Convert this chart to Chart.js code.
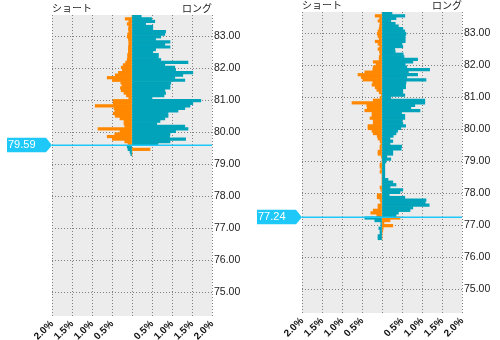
<!DOCTYPE html>
<html>
<head>
<meta charset="utf-8">
<script src="https://cdn.jsdelivr.net/npm/chart.js@4"></script>
<style>
  html, body { margin: 0; padding: 0; background: #fff; }
  #wrap { position: relative; width: 500px; height: 340px; }
  canvas { position: absolute; top: 0; }
  #bookA { left: 0; }
  #bookB { left: 250px; }
</style>
</head>
<body>
<div id="wrap">
  <canvas id="bookA" width="250" height="340"></canvas>
  <canvas id="bookB" width="250" height="340"></canvas>
</div>
<script>
// price buckets, top to bottom
const priceLevels = [
  83.62, 83.54, 83.46, 83.38, 83.30, 83.22, 83.14, 83.06, 82.98, 82.90,
  82.82, 82.74, 82.66, 82.58, 82.50, 82.42, 82.34, 82.26, 82.18, 82.10,
  82.02, 81.94, 81.86, 81.78, 81.70, 81.62, 81.54, 81.46, 81.38, 81.30,
  81.22, 81.14, 81.06, 80.98, 80.90, 80.82, 80.74, 80.66, 80.58, 80.50,
  80.42, 80.34, 80.26, 80.18, 80.10, 80.02, 79.94, 79.86, 79.78, 79.70,
  79.62, 79.54, 79.46, 79.38, 79.30, 79.22, 79.14, 79.06, 78.98, 78.90,
  78.82, 78.74, 78.66, 78.58, 78.50, 78.42, 78.34, 78.26, 78.18, 78.10,
  78.02, 77.94, 77.86, 77.78, 77.70, 77.62, 77.54, 77.46, 77.38, 77.30,
  77.22, 77.14, 77.06, 76.98, 76.90, 76.82, 76.74, 76.66, 76.58
];

// left book (%), long = teal, short = orange
const longA = [
  0.23, 0.49, 0.57, 0.34, 0.52, 0.52, 0.84, 0.82, 0.72, 0.59,
  0.95, 0.82, 0.95, 0.59, 0.52, 0.66, 0.66, 0.72, 1.40, 0.82,
  1.07, 1.09, 1.52, 1.27, 1.07, 1.32, 0.97, 0.95, 0.95, 0.82,
  0.84, 0.80, 0.50, 1.72, 1.52, 1.45, 1.32, 1.15, 0.90, 0.90,
  0.82, 0.70, 0.62, 1.32, 1.40, 1.09, 0.95, 0.94, 1.34, 0.95,
  0.65, -0.12, -0.10, -0.05, -0.03
];
const shortA = [
  0, -0.17, -0.08, -0.12, -0.08, -0.09, -0.08, -0.11, -0.12, -0.09,
  -0.08, -0.08, -0.09, -0.09, -0.09, -0.11, -0.11, -0.12, -0.16, -0.22,
  -0.27, -0.24, -0.34, -0.42, -0.62, -0.49, -0.28, -0.25, -0.29, -0.27,
  -0.20, -0.14, -0.08, -0.47, -0.47, -0.92, -0.45, -0.43, -0.47, -0.42,
  -0.30, -0.20, -0.20, -0.18, -0.85, -0.30, -0.43, -0.62, -0.49, -0.18,
  -0.10, -0.03, 0.45, 0, 0
];
const rateA = 79.59;

// right book (%)
const longB = [
  0.25, 0.57, 0.35, 0.22, 0.33, 0.41, 0.52, 0.57, 0.60, 0.58,
  0.58, 0.58, 0.50, 0.52, 0.32, 0.33, 0.53, 0.55, 0.89, 0.77,
  0.58, 0.62, 1.19, 0.66, 0.89, 0.62, 1.10, 0.60, 0.59, 0.59,
  0.52, 0.52, 0.57, 0.22, 1.07, 1.07, 0.82, 0.72, 0.95, 0.49,
  0.57, 0.57, 0.50, 0.52, 0.59, 0.47, 0.39, 0.35, 0.28, 0.20,
  0.27, 0.20, 0.49, 0.48, 0.27, 0.27, 0.12, 0.22, 0.10, 0.07,
  0.07, 0.07, 0.07, 0.07, 0.07, 0.15, 0.27, 0.35, 0.20, 0.52,
  0.45, 0.18, 0.57, 1.10, 1.08, 1.18, 0.77, 0.70, 0.41, 0.35,
  -0.43, -0.18, -0.03, -0.02, -0.08, -0.05, -0.05, -0.10, -0.10
];
const shortB = [
  0, -0.17, -0.06, -0.10, -0.05, -0.06, -0.07, -0.10, -0.12, -0.10,
  -0.07, -0.17, -0.10, -0.06, -0.10, -0.06, -0.05, -0.07, -0.07, -0.22,
  -0.15, -0.22, -0.23, -0.43, -0.60, -0.52, -0.48, -0.23, -0.25, -0.17,
  -0.13, -0.07, -0.02, -0.05, -0.22, -0.75, -0.38, -0.37, -0.43, -0.25,
  -0.25, -0.30, -0.22, -0.22, -0.35, -0.35, -0.25, -0.22, -0.12, -0.10,
  -0.05, -0.03, -0.05, -0.05, -0.10, -0.10, -0.02, 0, 0, -0.05,
  -0.05, -0.03, -0.05, 0, 0, 0, 0, 0, -0.05, -0.03,
  0, -0.12, -0.12, -0.05, -0.03, -0.10, -0.10, -0.22, -0.28, -0.13,
  0.45, 0.20, 0.05, 0.27, 0.03, 0.02, 0, 0, 0
];
const rateB = 77.24;

const xTicks = [-2, -1.5, -1, -0.5, 0, 0.5, 1, 1.5, 2];
const yTicks = [75, 76, 77, 78, 79, 80, 81, 82, 83];
const titles = ['ショート', 'ロング'];

const TEAL = '#00a3b9';
const ORANGE = '#ff8800';
const MARKER = '#1ec8f8';

Chart.defaults.font.family = '"Liberation Sans", Arial, sans-serif';
Chart.defaults.color = '#222';

// grey plotting area
const plotBg = {
  id: 'plotBg',
  beforeDraw(chart) {
    const { ctx, chartArea: a } = chart;
    ctx.save();
    ctx.fillStyle = '#ececec';
    ctx.fillRect(a.left, a.top, a.right - a.left, a.bottom - a.top);
    ctx.restore();
  }
};

// ショート / ロング headings over the plot
const headings = {
  id: 'headings',
  afterDraw(chart) {
    const { ctx, chartArea: a } = chart;
    ctx.save();
    ctx.fillStyle = '#222';
    ctx.font = '10px "Noto Sans CJK JP"';
    ctx.textBaseline = 'alphabetic';
    ctx.textAlign = 'left';
    ctx.fillText(titles[0], a.left, a.top - 3);
    ctx.textAlign = 'right';
    ctx.fillText(titles[1], a.right, a.top - 3);
    ctx.restore();
  }
};

// current rate line and tag
const rateTag = {
  id: 'rateTag',
  afterDatasetsDraw(chart, args, opts) {
    const { ctx, chartArea: a, scales } = chart;
    const y = scales.y.getPixelForValue(opts.rate);
    ctx.save();
    ctx.strokeStyle = MARKER;
    ctx.lineWidth = 1.5;
    ctx.beginPath();
    ctx.moveTo(a.left, y);
    ctx.lineTo(a.right, y);
    ctx.stroke();

    const x0 = a.left - 45, x1 = a.left - 6, top = y - 7.5, bot = y + 7;
    ctx.fillStyle = MARKER;
    ctx.beginPath();
    ctx.moveTo(x0, top);
    ctx.lineTo(x1, top);
    ctx.lineTo(a.left, y);
    ctx.lineTo(x1, bot);
    ctx.lineTo(x0, bot);
    ctx.closePath();
    ctx.fill();

    ctx.fillStyle = '#fff';
    ctx.font = '11px "Liberation Sans", Arial, sans-serif';
    ctx.textAlign = 'left';
    ctx.textBaseline = 'middle';
    ctx.fillText(opts.rate.toFixed(2), x0 + 1, y);
    ctx.restore();
  }
};

function makeBook(id, longs, shorts, rate, top) {
  const prices = priceLevels.slice(0, longs.length);
  return new Chart(document.getElementById(id), {
    type: 'bar',
    data: {
      datasets: [
        { label: titles[1], data: prices.map((p, i) => ({ x: longs[i], y: p })), backgroundColor: TEAL },
        { label: titles[0], data: prices.map((p, i) => ({ x: shorts[i], y: p })), backgroundColor: ORANGE }
      ]
    },
    options: {
      indexAxis: 'y',
      responsive: false,
      animation: false,
      devicePixelRatio: 1,
      layout: { padding: { top: top, left: 52, right: 0, bottom: 0 } },
      datasets: { bar: { grouped: false, barPercentage: 1, categoryPercentage: 1, borderWidth: 0 } },
      scales: {
        x: {
          type: 'linear',
          min: -2,
          max: 2,
          afterBuildTicks: s => { s.ticks = xTicks.map(v => ({ value: v })); },
          afterFit: s => { s.height = 27 - top + 12; },
          border: { display: false, dash: [1, 2] },
          grid: { color: '#808080', drawTicks: false, tickLength: 0 },
          ticks: {
            autoSkip: false,
            minRotation: 45,
            maxRotation: 45,
            padding: 2,
            font: { size: 10, weight: 'bold' },
            color: '#111',
            callback: v => v === 0 ? '' : Math.abs(v).toFixed(1) + '%'
          }
        },
        y: {
          type: 'linear',
          position: 'right',
          min: 74.25,
          max: 83.66,
          offset: false,
          afterBuildTicks: s => { s.ticks = yTicks.map(v => ({ value: v })); },
          afterFit: s => { s.width = 38; },
          border: { display: false, dash: [1, 2] },
          grid: { color: '#808080', drawTicks: false, tickLength: 0, offset: false },
          ticks: {
            autoSkip: false,
            padding: 2,
            font: { size: 10.5 },
            color: '#222',
            callback: v => Number(v).toFixed(2)
          }
        }
      },
      plugins: {
        legend: { display: false },
        tooltip: { enabled: false },
        rateTag: { rate: rate }
      }
    },
    plugins: [plotBg, headings, rateTag]
  });
}

makeBook('bookA', longA, shortA, rateA, 15);
makeBook('bookB', longB, shortB, rateB, 12);
</script>
</body>
</html>
